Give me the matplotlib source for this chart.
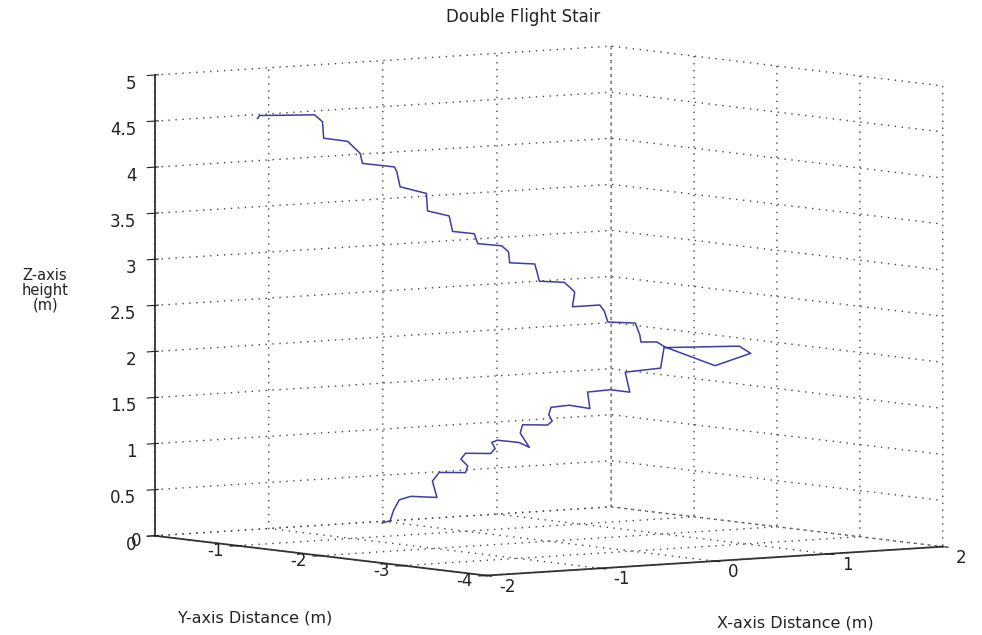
import numpy as np
import matplotlib
matplotlib.use("Agg")
import matplotlib.pyplot as plt

# walked path of the two flights plus the landing turn, in metres
x_lower = [-0.66, -0.59, -0.56, -0.51, -0.41, -0.18, -0.22, -0.16, 0.07, 0.09,
           0.03, 0.07, 0.29, 0.33, 0.30, 0.35, 0.54, 0.63, 0.55, 0.57,
           0.79, 0.83, 0.80, 0.82, 0.98, 1.16, 1.14, 1.34, 1.51, 1.47,
           1.78, 1.81]
z_lower = [0.13, 0.15, 0.26, 0.37, 0.40, 0.37, 0.55, 0.64, 0.62, 0.69,
           0.77, 0.83, 0.81, 0.86, 0.93, 0.95, 0.91, 0.85, 1.01, 1.10,
           1.08, 1.12, 1.19, 1.27, 1.28, 1.23, 1.41, 1.42, 1.38, 1.60,
           1.62, 1.84]
y_lower = [-0.9] * len(x_lower)

x_landing = [1.96, 1.77, 1.24]
y_landing = [-1.6, -2.0, -2.3]
z_landing = [1.92, 1.90, 1.84]

x_upper = [1.89, 1.82, 1.68, 1.67, 1.63, 1.39, 1.36, 1.32, 1.08, 1.10,
           1.01, 0.79, 0.77, 0.75, 0.53, 0.52, 0.46, 0.25, 0.22, 0.03,
           0.00, -0.19, -0.20, -0.43, -0.46, -0.48, -0.76, -0.78, -0.89, -1.10,
           -1.11, -1.18, -1.66, -1.68]
z_upper = [1.83, 1.89, 1.90, 1.98, 2.11, 2.14, 2.26, 2.33, 2.33, 2.49,
           2.60, 2.63, 2.73, 2.82, 2.85, 2.97, 3.04, 3.08, 3.19, 3.23,
           3.40, 3.47, 3.66, 3.75, 3.92, 3.97, 4.03, 4.14, 4.28, 4.33,
           4.51, 4.59, 4.62, 4.59]
y_upper = [-0.8] * len(x_upper)

x_ticks = [-2, -1, 0, 1, 2]
y_ticks = [0, -1, -2, -3, -4]
z_ticks = [0, 0.5, 1, 1.5, 2, 2.5, 3, 3.5, 4, 4.5, 5]
z_tick_labels = ['0', '0.5', '1', '1.5', '2', '2.5', '3', '3.5', '4', '4.5', '5']

plt.rcParams['font.family'] = 'DejaVu Sans'
plt.rcParams['axes.unicode_minus'] = False
plt.rcParams['grid.linestyle'] = (0, (1, 4))
plt.rcParams['grid.color'] = '#444444'
plt.rcParams['grid.linewidth'] = 1.0

xs = np.array(x_lower + x_landing + x_upper)
ys = np.array(y_lower + y_landing + y_upper)
zs = np.array(z_lower + z_landing + z_upper)

fig = plt.figure(figsize=(9.82, 6.35), dpi=100)
ax = fig.add_subplot(projection='3d', proj_type='ortho')
ax.set_position([0.05, -0.003, 1.0, 1.0])
ax.view_init(elev=5, azim=-126)
ax.set_box_aspect((1.22, 1.22, 1), zoom=1.41)

ax.plot(xs, ys, zs, color='#3c3ca8', linewidth=1.1)

ax.set_xlim(-2, 2)
ax.set_ylim(-4, 0)
ax.set_zlim(0, 5)
ax.set_xticks(x_ticks)
ax.set_yticks(y_ticks)
ax.set_zticks(z_ticks)
ax.set_zticklabels(z_tick_labels)
ax.tick_params(labelsize=12, colors='#222222')
ax.tick_params(axis='x', pad=1.5)
ax.tick_params(axis='y', pad=-1)
ax.tick_params(axis='z', pad=-2.5)

for lab in ax.get_xticklabels():
    lab.set_ha('left')
    lab.set_va('bottom')
for lab in ax.get_yticklabels():
    lab.set_ha('right')
    lab.set_va('bottom')
for lab in ax.get_zticklabels():
    lab.set_ha('right')

for axis in (ax.xaxis, ax.yaxis, ax.zaxis):
    axis.set_pane_color((1, 1, 1, 0))
    axis.pane.set_edgecolor('none')
    axis.line.set_color('#333333')
    axis.line.set_linewidth(1.3)

fig.text(0.533, 0.965, 'Double Flight Stair', ha='center', fontsize=12, color='#222222')
fig.text(0.26, 0.02, 'Y-axis Distance (m)', ha='center', fontsize=11.5, color='#222222')
fig.text(0.81, 0.012, 'X-axis Distance (m)', ha='center', fontsize=11.5, color='#222222')
fig.text(0.046, 0.543, 'Z-axis\nheight\n(m)', ha='center', va='center', fontsize=10.5,
         linespacing=1.0, color='#222222')

fig.savefig('out.png', dpi=100)
